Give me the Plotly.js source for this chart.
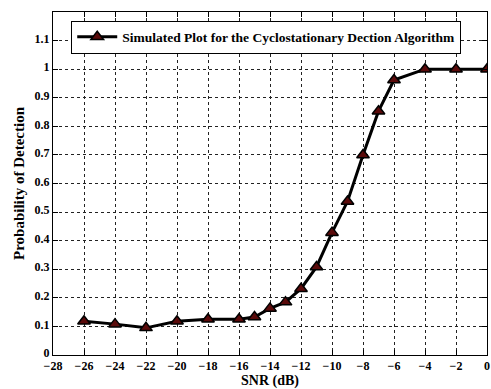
<!DOCTYPE html>
<html><head><meta charset="utf-8">
<script src="https://cdn.plot.ly/plotly-3.0.1.min.js"></script>
<style>html,body{margin:0;padding:0;background:#fff}#chart{width:491px;height:389px}</style>
</head><body><div id="chart"></div>
<script>
const snr = [-26, -24, -22, -20, -18, -16, -15, -14, -13, -12, -11, -10, -9, -8, -7, -6, -4, -2, 0];
const pd = [0.118, 0.108, 0.095, 0.118, 0.125, 0.125, 0.133, 0.163, 0.185, 0.232, 0.308, 0.428, 0.537, 0.700, 0.853, 0.962, 1.0, 1.0, 1.0];
const xTicks = [-28, -26, -24, -22, -20, -18, -16, -14, -12, -10, -8, -6, -4, -2, 0];
const yTicks = [0, 0.1, 0.2, 0.3, 0.4, 0.5, 0.6, 0.7, 0.8, 0.9, 1, 1.1];
const font = {family: 'Liberation Serif, Times New Roman, serif', color: '#000'};
const ax = {
  showline: true, linecolor: '#000', linewidth: 1.2, mirror: 'ticks',
  ticks: 'inside', ticklen: 5, tickcolor: '#000',
  showgrid: true, gridcolor: '#222', griddash: 'dot', gridwidth: 1,
  zeroline: false, tickfont: Object.assign({size: 12}, font)
};
Plotly.newPlot('chart', [{
  x: snr, y: pd, type: 'scatter', mode: 'lines+markers',
  name: '<b>Simulated Plot for the Cyclostationary Dection Algorithm</b>',
  line: {color: '#000', width: 3},
  marker: {symbol: 'triangle-up', size: 11, color: '#5a0a0a', line: {color: '#000', width: 1.5}}
}], {
  width: 491, height: 389,
  margin: {l: 53, r: 4, t: 12, b: 34},
  paper_bgcolor: '#fff', plot_bgcolor: '#fff',
  showlegend: true,
  legend: {x: 0.042, y: 0.975, xanchor: 'left', yanchor: 'top', bordercolor: '#000', borderwidth: 1,
    bgcolor: '#fff', font: Object.assign({size: 13.5}, font), itemwidth: 40, tracegroupgap: 0},
  xaxis: Object.assign({}, ax, {range: [-28, 0], tickvals: xTicks, ticklabelstandoff: -1,
    ticktext: xTicks.map(v => '<b>' + (v < 0 ? '\u2212' + (-v) : String(v)) + '</b>'),
    title: {text: '<b>SNR (dB)</b>', font: Object.assign({size: 14}, font), standoff: 0}}),
  yaxis: Object.assign({}, ax, {range: [0, 1.2], tickvals: yTicks, ticklabelshift: -2,
    ticktext: yTicks.map(v => '<b>' + v + '</b>'),
    title: {text: '<b>Probability of Detection</b>', font: Object.assign({size: 15}, font), standoff: 6}})
}, {staticPlot: true});
</script></body></html>
